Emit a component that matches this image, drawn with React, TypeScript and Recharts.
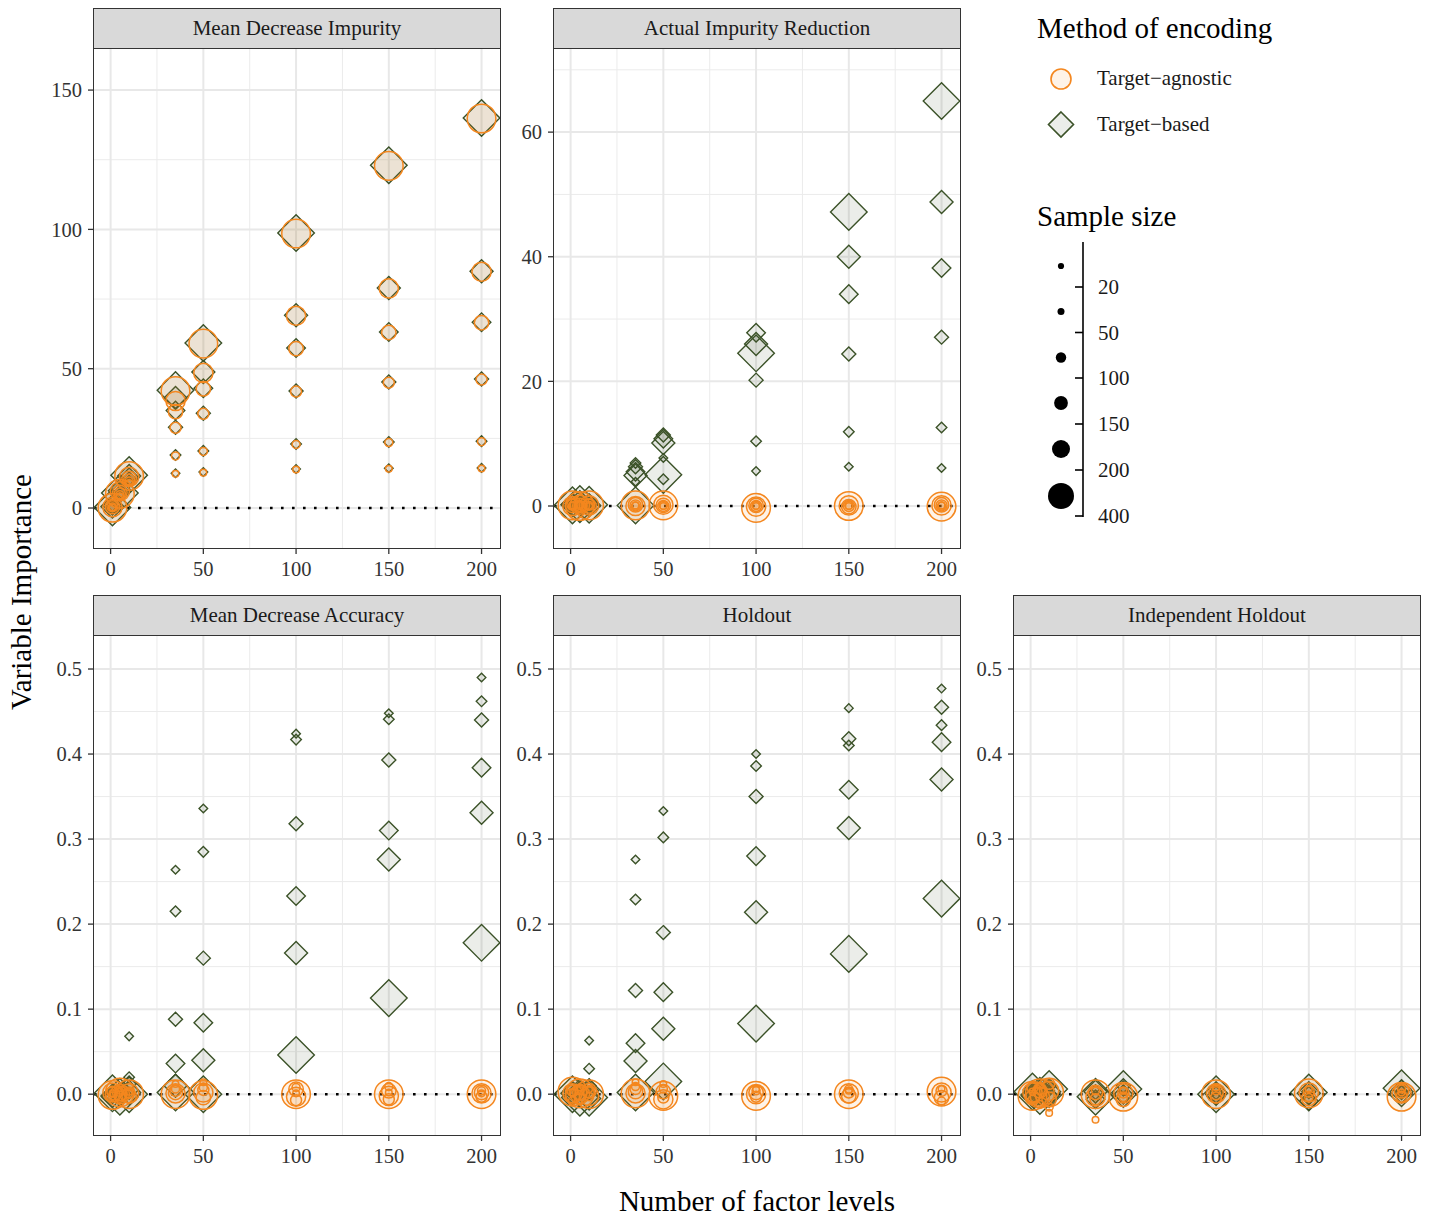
import React from 'react';
import { ScatterChart, Scatter, XAxis, YAxis, CartesianGrid, ReferenceLine } from 'recharts';

const FONT = '"Liberation Serif", "DejaVu Serif", serif';
const ORANGE = '#F4871F';
const GREEN = '#3B5228';

const FACTOR_LEVELS = [1, 5, 10, 35, 50, 100, 150, 200];
const SAMPLE_SIZES = [20, 50, 100, 150, 200, 400];
const X_TICKS = [0, 50, 100, 150, 200];
const X_MINOR = [25, 75, 125, 175];

// rows follow FACTOR_LEVELS, columns follow SAMPLE_SIZES
const MDI_AGNOSTIC = [
  [0.2, 0.4, 0.6, 0.5, 0.3, 0.1],
  [4.2, 4.8, 5.2, 5.6, 6.0, 5.1],
  [9.0, 9.7, 10.2, 10.6, 11.2, 11.5],
  [12.3, 18.7, 28.8, 34.6, 38.4, 42.0],
  [12.7, 20.3, 33.8, 42.8, 48.5, 59.0],
  [13.8, 22.8, 41.8, 57.2, 69.0, 98.5],
  [14.1, 23.5, 45.0, 63.0, 78.8, 122.8],
  [14.2, 23.8, 46.1, 66.5, 84.8, 139.8],
];
const MDI_BASED = [
  [0.3, 0.6, 0.4, 0.8, 0.5, 0.2],
  [4.6, 5.0, 5.4, 5.9, 6.2, 5.4],
  [9.4, 9.9, 10.4, 11.0, 11.5, 11.8],
  [12.5, 19.0, 29.0, 35.0, 39.5, 42.3],
  [12.9, 20.5, 34.0, 43.0, 48.8, 59.2],
  [14.0, 23.0, 42.0, 57.4, 69.2, 98.7],
  [14.3, 23.7, 45.2, 63.2, 79.0, 123.0],
  [14.4, 24.0, 46.3, 66.7, 85.0, 140.0],
];

const AIR_AGNOSTIC = [
  [0.1, 0.0, 0.2, 0.1, 0.0, 0.1],
  [0.2, 0.1, 0.0, 0.1, 0.2, 0.0],
  [0.0, 0.1, 0.2, 0.0, 0.1, 0.1],
  [0.1, 0.0, 0.1, 0.2, 0.0, 0.1],
  [0.0, 0.1, 0.0, 0.1, 0.2, 0.1],
  [0.0, 0.1, 0.0, 0.1, -0.1, -0.3],
  [0.0, 0.1, 0.0, -0.1, 0.1, 0.0],
  [0.1, 0.0, 0.1, 0.2, 0.1, -0.1],
];
const AIR_BASED = [
  [0.2, 0.3, 0.1, 0.4, 0.2, 0.1],
  [0.5, 0.4, 0.3, 0.2, 0.6, 0.3],
  [0.3, 0.5, 0.2, 0.4, 0.1, 0.2],
  [3.9, 6.9, 6.3, 5.5, 4.9, 0.1],
  [7.7, 4.3, 11.4, 10.8, 10.1, 5.0],
  [5.6, 10.4, 20.2, 27.8, 26.0, 24.5],
  [6.3, 11.9, 24.4, 34.0, 40.0, 47.2],
  [6.1, 12.6, 27.1, 38.2, 48.8, 65.0],
];

const MDA_AGNOSTIC = [
  [0.001, -0.002, 0.003, 0.0, 0.002, -0.001],
  [0.004, 0.002, -0.003, 0.001, 0.0, 0.002],
  [0.003, 0.0, 0.002, -0.002, 0.001, 0.0],
  [0.012, 0.006, 0.004, 0.002, 0.001, 0.0],
  [0.014, 0.008, 0.005, -0.004, 0.002, -0.001],
  [0.001, 0.008, -0.007, 0.006, -0.003, 0.0],
  [0.002, 0.009, -0.006, 0.004, -0.002, 0.0],
  [0.001, 0.004, -0.003, 0.002, 0.001, 0.0],
];
const MDA_BASED = [
  [0.002, 0.001, 0.003, 0.0, -0.002, 0.001],
  [0.008, 0.004, 0.002, 0.001, 0.0, -0.003],
  [0.068, 0.02, 0.012, 0.005, 0.002, 0.0],
  [0.264, 0.215, 0.088, 0.036, 0.01, 0.002],
  [0.336, 0.285, 0.16, 0.084, 0.04, 0.0],
  [0.424, 0.417, 0.318, 0.233, 0.166, 0.046],
  [0.448, 0.441, 0.393, 0.31, 0.276, 0.113],
  [0.49, 0.462, 0.44, 0.384, 0.331, 0.178],
];

const HO_AGNOSTIC = [
  [0.002, -0.008, 0.004, -0.002, 0.001, 0.003],
  [0.008, 0.004, -0.006, 0.002, 0.0, 0.001],
  [0.006, -0.003, 0.002, 0.004, -0.002, 0.0],
  [0.014, 0.009, 0.006, 0.003, 0.001, 0.001],
  [0.012, 0.006, -0.004, 0.003, -0.006, -0.002],
  [0.006, 0.004, -0.003, 0.002, 0.0, -0.002],
  [0.004, 0.006, 0.002, -0.002, 0.001, 0.0],
  [0.006, -0.008, 0.004, -0.004, 0.002, 0.003],
];
const HO_BASED = [
  [0.003, 0.0, -0.002, 0.004, 0.001, 0.0],
  [0.01, 0.006, 0.002, -0.003, 0.001, -0.004],
  [0.063, 0.03, 0.01, 0.004, -0.005, -0.004],
  [0.276, 0.229, 0.122, 0.06, 0.039, 0.002],
  [0.333, 0.302, 0.19, 0.12, 0.077, 0.015],
  [0.4, 0.386, 0.35, 0.28, 0.214, 0.083],
  [0.454, 0.41, 0.418, 0.358, 0.313, 0.165],
  [0.477, 0.434, 0.455, 0.414, 0.37, 0.23],
];

const IH_AGNOSTIC = [
  [0.003, -0.006, 0.008, -0.004, 0.002, -0.002],
  [0.01, -0.012, 0.006, 0.004, -0.003, 0.001],
  [-0.022, -0.015, 0.012, -0.006, 0.004, 0.002],
  [-0.03, 0.004, -0.006, 0.002, -0.003, 0.0],
  [0.004, -0.004, 0.002, -0.006, 0.001, -0.003],
  [0.008, 0.004, -0.004, 0.002, 0.001, 0.0],
  [0.006, -0.004, 0.003, -0.005, 0.002, 0.001],
  [0.002, 0.006, -0.003, 0.004, 0.001, -0.003],
];
const IH_BASED = [
  [0.004, -0.003, 0.002, 0.005, -0.001, 0.003],
  [0.006, 0.002, -0.004, 0.003, 0.001, -0.002],
  [0.008, 0.004, 0.01, -0.002, 0.003, 0.006],
  [0.006, -0.004, 0.002, -0.006, 0.003, -0.003],
  [0.005, 0.004, 0.01, 0.0, 0.002, 0.006],
  [0.006, -0.004, 0.002, -0.002, 0.001, 0.0],
  [0.004, -0.006, 0.003, -0.008, 0.001, 0.002],
  [0.008, 0.004, 0.002, 0.006, 0.003, 0.007],
];

// marker sizes per sample-size level
const CIRCLE_R = [3.3, 4, 5.5, 7.2, 9.6, 14.3];
const DIAMOND_HALF = [4.3, 5.3, 7, 9.3, 11.5, 18.3];
const LEGEND_DOT_R = [3.1, 3.5, 5.2, 6.9, 9, 13];

const toPoints = (rows: number[][]) =>
  rows.flatMap((row, i) => row.map((v, j) => ({ x: FACTOR_LEVELS[i], y: v, level: j })));

const PW = 406;
const PH = 500;
const LOW_TICKS = [0, 0.1, 0.2, 0.3, 0.4, 0.5];
const LOW_MINOR = [0.05, 0.15, 0.25, 0.35, 0.45];
const LOW_DOMAIN: [number, number] = [-0.048, 0.54];
const fmt1 = (v: number) => v.toFixed(1);
const fmt0 = (v: number) => String(v);

const PANELS = [
  { title: 'Mean Decrease Impurity', left: 94, top: 8, agn: MDI_AGNOSTIC, tb: MDI_BASED,
    domain: [-14.35, 165.1] as [number, number], ticks: [0, 50, 100, 150], minor: [25, 75, 125], fmt: fmt0 },
  { title: 'Actual Impurity Reduction', left: 554, top: 8, agn: AIR_AGNOSTIC, tb: AIR_BASED,
    domain: [-6.74, 73.5] as [number, number], ticks: [0, 20, 40, 60], minor: [10, 30, 50, 70], fmt: fmt0 },
  { title: 'Mean Decrease Accuracy', left: 94, top: 595, agn: MDA_AGNOSTIC, tb: MDA_BASED,
    domain: LOW_DOMAIN, ticks: LOW_TICKS, minor: LOW_MINOR, fmt: fmt1 },
  { title: 'Holdout', left: 554, top: 595, agn: HO_AGNOSTIC, tb: HO_BASED,
    domain: LOW_DOMAIN, ticks: LOW_TICKS, minor: LOW_MINOR, fmt: fmt1 },
  { title: 'Independent Holdout', left: 1014, top: 595, agn: IH_AGNOSTIC, tb: IH_BASED,
    domain: LOW_DOMAIN, ticks: LOW_TICKS, minor: LOW_MINOR, fmt: fmt1 },
];

const CircleShape = (props: any) => {
  const { cx, cy, payload } = props;
  if (cx == null || cy == null) return null;
  return (
    <circle cx={cx} cy={cy} r={CIRCLE_R[payload.level]} fill={ORANGE} fillOpacity={0.1}
      stroke={ORANGE} strokeWidth={1.5} />
  );
};

const DiamondShape = (props: any) => {
  const { cx, cy, payload } = props;
  if (cx == null || cy == null) return null;
  const h = DIAMOND_HALF[payload.level];
  return (
    <path d={`M${cx},${cy - h}L${cx + h},${cy}L${cx},${cy + h}L${cx - h},${cy}Z`}
      fill={GREEN} fillOpacity={0.1} stroke={GREEN} strokeWidth={1.4} strokeLinejoin="miter" />
  );
};

const tickStyle = { fill: '#333', fontSize: 20.5, fontFamily: FONT };

const Panel: React.FC<{ p: typeof PANELS[number] }> = ({ p }) => {
  const YW = 60;
  return (
    <>
      <div style={{ position: 'absolute', left: p.left - YW, top: p.top + 40 }}>
        <ScatterChart width={YW + PW + 12} height={PH + 40} margin={{ top: 0, right: 12, bottom: 0, left: 0 }}>
          <CartesianGrid stroke="#EBEBEB" strokeWidth={1} horizontalValues={p.minor} verticalValues={X_MINOR} />
          <CartesianGrid stroke="#E8E8E8" strokeWidth={2} horizontalValues={p.ticks} verticalValues={X_TICKS} />
          <XAxis type="number" dataKey="x" domain={[-8.95, 209.95]} allowDataOverflow ticks={X_TICKS}
            interval={0} axisLine={false} tickSize={6} tickMargin={7} height={40}
            tickLine={{ stroke: '#333', strokeWidth: 1.3 }} tick={tickStyle} />
          <YAxis type="number" dataKey="y" domain={p.domain} allowDataOverflow ticks={p.ticks}
            interval={0} axisLine={false} tickSize={6} tickMargin={6} width={YW}
            tickFormatter={p.fmt} tickLine={{ stroke: '#333', strokeWidth: 1.3 }} tick={tickStyle} />
          <Scatter data={toPoints(p.tb)} shape={DiamondShape} isAnimationActive={false} />
          <Scatter data={toPoints(p.agn)} shape={CircleShape} isAnimationActive={false} />
          <ReferenceLine y={0} stroke="#000" strokeWidth={2.6} strokeDasharray="2.6 8.4" />
        </ScatterChart>
      </div>
      <div style={{ position: 'absolute', left: p.left - 1, top: p.top + 39, width: PW, height: PH,
        border: '1.4px solid #333', pointerEvents: 'none' }} />
      <div style={{ position: 'absolute', left: p.left - 1, top: p.top, width: PW, height: 39,
        background: '#D9D9D9', border: '1.4px solid #333', boxSizing: 'content-box',
        display: 'flex', alignItems: 'center', justifyContent: 'center',
        fontFamily: FONT, fontSize: 21, color: '#1A1A1A' }}>
        {p.title}
      </div>
    </>
  );
};

const LEGEND_TICK_Y = [287, 332.5, 378, 424, 470, 516];
const LEGEND_DOT_Y = [266, 311.5, 357.5, 403, 449, 496];

const Legends: React.FC = () => (
  <svg width={1437} height={1217} style={{ position: 'absolute', left: 0, top: 0, pointerEvents: 'none' }}
    fontFamily={FONT}>
    <text x={31} y={592} transform="rotate(-90 31 592)" textAnchor="middle" fontSize={29} fill="#000">
      Variable Importance
    </text>
    <text x={757} y={1211} textAnchor="middle" fontSize={29} fill="#000">Number of factor levels</text>

    <text x={1037} y={38} fontSize={29} fill="#000">Method of encoding</text>
    <circle cx={1061} cy={79} r={10} fill={ORANGE} fillOpacity={0.1} stroke={ORANGE} strokeWidth={1.6} />
    <text x={1097} y={85} fontSize={21} fill="#1A1A1A">Target−agnostic</text>
    <path d="M1061,112L1073.5,124.5L1061,137L1048.5,124.5Z" fill={GREEN} fillOpacity={0.1}
      stroke={GREEN} strokeWidth={1.6} />
    <text x={1097} y={131} fontSize={21} fill="#1A1A1A">Target−based</text>

    <text x={1037} y={226} fontSize={29} fill="#000">Sample size</text>
    <line x1={1083} y1={242} x2={1083} y2={517} stroke="#000" strokeWidth={1.6} />
    {SAMPLE_SIZES.map((s, i) => (
      <g key={s}>
        <line x1={1075} y1={LEGEND_TICK_Y[i]} x2={1083} y2={LEGEND_TICK_Y[i]} stroke="#000" strokeWidth={1.6} />
        <text x={1098} y={LEGEND_TICK_Y[i] + 7} fontSize={21} fill="#1A1A1A">{s}</text>
        <circle cx={1061} cy={LEGEND_DOT_Y[i]} r={LEGEND_DOT_R[i]} fill="#000" />
      </g>
    ))}
  </svg>
);

export default function App() {
  return (
    <div style={{ position: 'absolute', left: 0, top: 0, width: 1437, height: 1217, background: '#fff' }}>
      <Legends />
      {PANELS.map((p) => <Panel key={p.title} p={p} />)}
    </div>
  );
}
